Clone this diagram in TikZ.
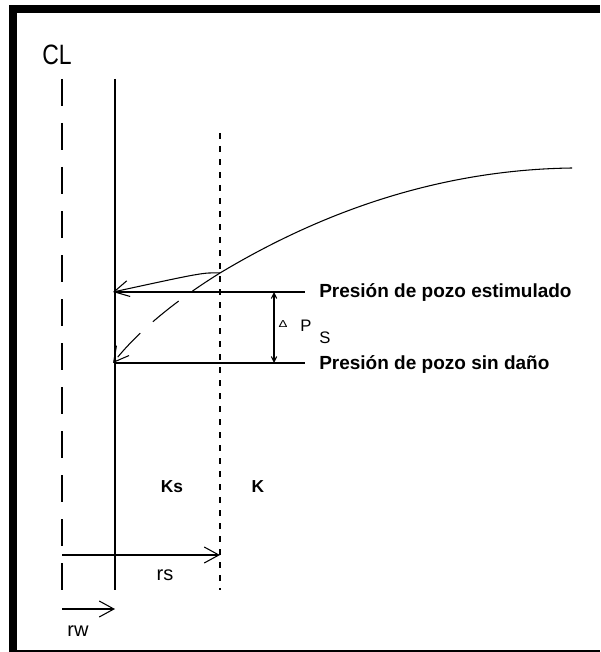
\documentclass[tikz,border=0pt]{standalone}
\usepackage{fontspec}
\setmainfont{Liberation Sans}
\usetikzlibrary{arrows.meta}
\tikzset{
  thinline/.style={line width=0.8pt, black},
  bigbarb/.style={-{Straight Barb[length=11pt,width=12pt]}},
  lbl/.style={font=\fontsize{14.25}{16}\selectfont\bfseries, inner sep=0pt},
  klbl/.style={font=\fontsize{13}{15}\selectfont\bfseries, inner sep=0pt},
  rlbl/.style={font=\fontsize{15}{17}\selectfont, inner sep=0pt},
  symlbl/.style={inner sep=0pt}
}
\begin{document}
\begin{tikzpicture}[x=0.75pt,y=-0.75pt]
\useasboundingbox (0,0) rectangle (600,652);
% frame
\fill[black] (9,5) rectangle (17,652);
\fill[black] (9,5) rectangle (600,13);
\fill[black] (9,649.5) rectangle (600,652);
% coordinates
\coordinate (clT) at (62,79);
\coordinate (clB) at (62,590);
\coordinate (wT) at (115,79);
\coordinate (wB) at (115,590);
\coordinate (sT) at (220,133);
\coordinate (sB) at (220,590);
\coordinate (J) at (220,273);
\coordinate (cE) at (572,168);
\coordinate (pE) at (113,292);
\coordinate (pD) at (113,363);
\coordinate (hE0) at (115,292);
\coordinate (hD0) at (115,363);
\coordinate (hE) at (305,292);
\coordinate (hD) at (305,363);
\coordinate (dT) at (274,292);
\coordinate (dB) at (274,363);
\coordinate (rsA) at (62,555);
\coordinate (rsB) at (220,555);
\coordinate (rwA) at (62,609);
\coordinate (rwB) at (115,609);
% vertical lines
\draw[thinline, dash pattern=on 20pt off 13pt] (clT) -- (clB);
\draw[thinline] (wT) -- (wB);
\draw[thinline, dash pattern=on 4.5pt off 5.25pt] (sT) -- (sB);
% pressure curve
\draw[thinline] (J) .. controls (300,225) and (420,170) .. (cE);
% arrows to well
\draw[thinline, bigbarb] (J) .. controls (203,272.5) .. (pE);
\draw[thinline, bigbarb, dash pattern=on 24.75pt off 12.75pt] (J) .. controls (170,304) and (135,335) .. (pD);
% horizontal lines
\draw[thinline] (hE0) -- (hE);
\draw[thinline] (hD0) -- (hD);
% delta p arrow
\draw[thinline, {Straight Barb[length=4pt,width=4pt]}-{Straight Barb[length=4pt,width=4pt]}] (dT) -- (dB);
% radius arrows
\draw[thinline, bigbarb] (rsA) -- (rsB);
\draw[thinline, bigbarb] (rwA) -- (rwB);
% labels
\node[lbl, anchor=base west] (tE) at (319,297.5) {Presión de pozo estimulado};
\node[lbl, anchor=base west] (tD) at (319,369) {Presión de pozo sin daño};
\node[symlbl, font=\fontsize{21}{23}\selectfont] (CL) at (57,55) {\scalebox{0.82}[1]{CL}};
\node[symlbl, font=\fontsize{10}{11}\selectfont] (del) at (283,324.5) {\scalebox{1}[0.75]{Δ}};
\node[symlbl, font=\fontsize{12.5}{14}\selectfont] (P) at (306,326) {P};
\node[symlbl, font=\fontsize{12.5}{14}\selectfont] (S) at (325,338) {S};
\node[klbl] (Ks) at (172,487) {Ks};
\node[klbl] (K) at (258,487) {K};
\node[rlbl] (rs) at (165,575) {rs};
\node[rlbl] (rw) at (78,631) {rw};
\end{tikzpicture}
\end{document}
